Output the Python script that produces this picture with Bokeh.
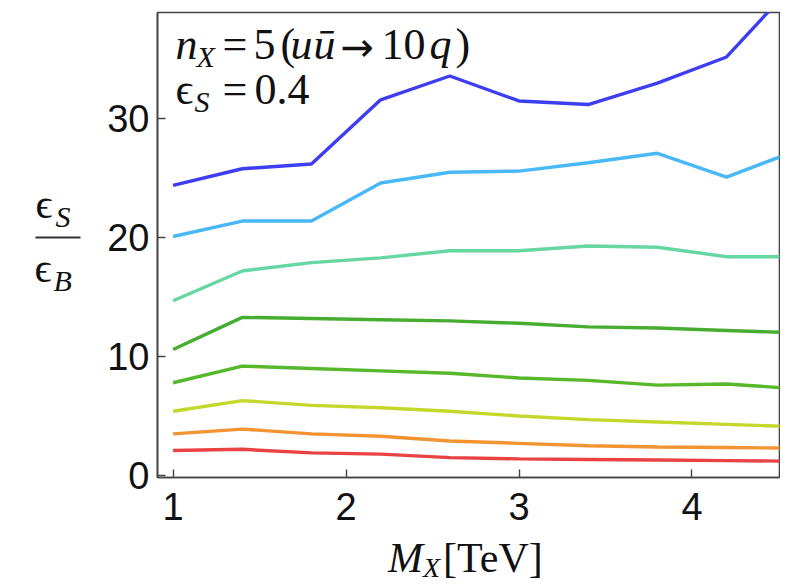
from bokeh.plotting import figure
from bokeh.models import FixedTicker, Range1d, ColumnDataSource
from bokeh.layouts import row, column
from bokeh.embed import file_html
from bokeh.resources import INLINE

# ---- data ----
mass_tev = [1.0, 1.4, 1.8, 2.2, 2.6, 3.0, 3.4, 3.8, 4.2, 4.6]
ratio_c1 = [24.4, 25.8, 26.2, 31.6, 33.6, 31.5, 31.2, 33.0, 35.2, 41.5]
ratio_c2 = [20.1, 21.4, 21.4, 24.6, 25.5, 25.6, 26.3, 27.1, 25.1, 27.3]
ratio_c3 = [14.7, 17.2, 17.9, 18.3, 18.9, 18.9, 19.3, 19.2, 18.4, 18.4]
ratio_c4 = [10.6, 13.3, 13.2, 13.1, 13.0, 12.8, 12.5, 12.4, 12.2, 12.0]
ratio_c5 = [7.8, 9.2, 9.0, 8.8, 8.6, 8.2, 8.0, 7.6, 7.7, 7.3]
ratio_c6 = [5.4, 6.3, 5.9, 5.7, 5.4, 5.0, 4.7, 4.5, 4.3, 4.1]
ratio_c7 = [3.5, 3.9, 3.5, 3.3, 2.9, 2.7, 2.5, 2.4, 2.35, 2.3]
ratio_c8 = [2.1, 2.2, 1.9, 1.8, 1.5, 1.4, 1.35, 1.3, 1.25, 1.2]
series = [ratio_c1, ratio_c2, ratio_c3, ratio_c4, ratio_c5, ratio_c6, ratio_c7, ratio_c8]
colors = ["#3d3df2", "#48b8f6", "#66d6a2", "#46ad30", "#56b82a", "#c4d82c", "#f39433", "#ea4242"]
x_ticks = [1, 2, 3, 4]
y_ticks = [0, 10, 20, 30]

# ---- layout (page px) ----
LEFT_W = 100
FRAME_L, FRAME_R, FRAME_T, FRAME_B = 157, 779, 12, 477
MAIN_W = 680
MAIN_H = 534
XL_H = 50
XR = (0.910, 4.506)
YR = (-0.17, 38.94)
BASE_SHIFT = 0.36   # alphabetic-baseline correction (fraction of font size)

p = figure(width=MAIN_W, height=MAIN_H, output_backend="svg", toolbar_location=None,
           frame_width=FRAME_R - FRAME_L, frame_height=FRAME_B - FRAME_T,
           x_range=Range1d(*XR), y_range=Range1d(*YR),
           min_border_left=FRAME_L - LEFT_W, min_border_right=LEFT_W + MAIN_W - FRAME_R,
           min_border_top=FRAME_T, min_border_bottom=MAIN_H - FRAME_B)
p.grid.visible = False
p.outline_line_color = "#444444"
p.outline_line_width = 1.6

for ax, ticks in ((p.xaxis[0], x_ticks), (p.yaxis[0], y_ticks)):
    ax.ticker = FixedTicker(ticks=ticks)
    ax.major_tick_in = 8
    ax.major_tick_out = 0
    ax.minor_tick_line_color = None
    ax.axis_line_color = "#444444"
    ax.axis_line_width = 1.6
    ax.major_tick_line_color = "#444444"
    ax.major_tick_line_width = 1.4
    ax.major_label_text_font = "Liberation Sans"
    ax.major_label_text_font_size = "38px"
    ax.major_label_text_color = "#111111"
p.xaxis.major_label_standoff = 15
p.yaxis.major_label_standoff = 8

for ys, c in zip(series, colors):
    p.line(mass_tev, ys, line_color=c, line_width=3.4)


def add_text(fig, items, to_x, to_y):
    src = ColumnDataSource(dict(
        x=[to_x(i[1]) for i in items],
        y=[to_y(i[2] - BASE_SHIFT * i[3]) for i in items],
        t=[i[0] for i in items], size=[f"{i[3]}px" for i in items],
        style=["italic" if i[4] else "normal" for i in items],
        font=[i[5] if len(i) > 5 else "Liberation Serif" for i in items]))
    fig.text(x="x", y="y", text="t", source=src, text_font="font",
             text_font_size="size", text_font_style="style", text_color="#111111",
             text_align="left", text_baseline="alphabetic")


def main_x(px):
    return XR[0] + (px - FRAME_L) * (XR[1] - XR[0]) / (FRAME_R - FRAME_L)


def main_y(py):
    return YR[1] - (py - FRAME_T) * (YR[1] - YR[0]) / (FRAME_B - FRAME_T)


# annotation (page px, alphabetic baseline)
add_text(p, [
    ("n", 175, 60, 44, True), ("X", 196, 67, 30, True), ("=", 222, 60, 44, False),
    ("5", 253, 60, 44, False), ("(", 280, 60, 44, False), ("u", 290, 60, 44, True),
    ("\u016b", 313, 60, 44, True), ("\u2192", 340, 61, 40, False, "DejaVu Sans"),
    ("10", 381, 60, 44, False), ("q", 429, 60, 44, True), (")", 455, 60, 44, False),
    ("\u03f5", 175, 105, 44, False), ("S", 194, 112, 30, True),
    ("=", 222, 105, 44, False), ("0.4", 254, 105, 44, False),
], main_x, main_y)


def strip(w, h, xr, yr):
    f = figure(width=w, height=h, output_backend="svg", toolbar_location=None,
               x_range=Range1d(*xr), y_range=Range1d(*yr),
               x_axis_location=None, y_axis_location=None, title=None,
               min_border=0, min_border_left=0, min_border_right=0,
               min_border_top=0, min_border_bottom=0)
    f.grid.visible = False
    f.outline_line_color = None
    f.background_fill_color = "white"
    f.border_fill_color = "white"
    return f


ident = lambda v: v

# y-axis label strip: its frame is aligned to the main frame (page y 12..477)
yl = strip(LEFT_W, MAIN_H, (0, LEFT_W), (FRAME_B, FRAME_T))
add_text(yl, [("\u03f5", 35, 219, 42, False), ("S", 55, 227, 30, True),
              ("\u03f5", 34, 283, 42, False), ("B", 53, 291, 30, True)], ident, ident)
yl.segment(x0=[35], y0=[237], x1=[80], y1=[237], line_color="#333333", line_width=2.2)

# x-axis label strip: page x 0..779, y starting at MAIN_H
xl = strip(LEFT_W + MAIN_W, XL_H, (0, FRAME_R), (MAIN_H + XL_H, MAIN_H))
add_text(xl, [("M", 387, 573, 42, True), ("X", 422, 577, 28, True),
              ("[TeV]", 442, 573, 42, False)], ident, ident)

layout = column(row(yl, p), xl)
open("out.html", "w").write(file_html(layout, INLINE))
